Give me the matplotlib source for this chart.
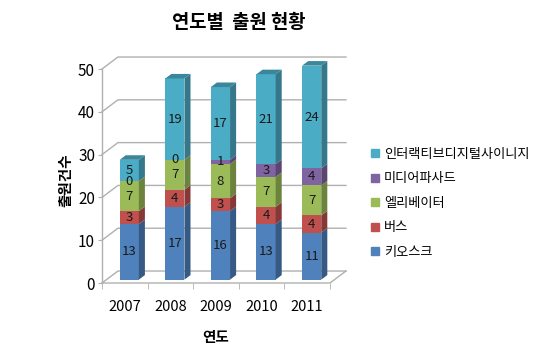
import matplotlib.pyplot as plt
import numpy as np
from matplotlib.patches import Polygon

plt.rcParams['font.family'] = ['Noto Sans CJK KR', 'DejaVu Sans']

years = ['2007', '2008', '2009', '2010', '2011']
series_names = ['키오스크', '버스', '엘리베이터', '미디어파사드', '인터랙티브디지털사이니지']
kiosk = [13, 17, 16, 13, 11]
bus = [3, 4, 3, 4, 4]
elevator = [7, 7, 8, 7, 7]
facade = [0, 0, 1, 3, 4]
signage = [5, 19, 17, 21, 24]
series = [kiosk, bus, elevator, facade, signage]

colors = ['#4f81bd', '#c0504d', '#9bbb59', '#8064a2', '#4bacc6']


def shade(c, k):
    r, g, b = [int(c[i:i + 2], 16) / 255 for i in (1, 3, 5)]
    return (r * k, g * k, b * k)


fig = plt.figure(figsize=(5.57, 3.53), dpi=100)
ax = fig.add_axes([102 / 557, 70 / 353, 228 / 557, 214 / 353])
x0, x1 = -0.5, 4.5
ax.set_xlim(x0, x1)
ax.set_ylim(0, 50)

# profondeur du graphique 3D (en unités de données)
dx, dy = 0.35, 2.8
grid_c = '#b0b0b0'

# murs et grille
for yv in range(0, 60, 10):
    ax.plot([x0, x0 + dx, x1 + dx], [yv, yv + dy, yv + dy], color=grid_c, lw=1, clip_on=False, zorder=1)
ax.plot([x0, x1, x1 + dx], [0, 0, dy], color=grid_c, lw=1, clip_on=False, zorder=1)
ax.plot([x0, x0], [0, 50], color=grid_c, lw=1, clip_on=False, zorder=1)

# barres 3D
f = 0.28    # position de la face avant
bd = 0.38   # profondeur de la barre
w = 0.42
xpos = np.arange(len(years))
bottoms = np.zeros(len(years))
for s, vals in enumerate(series):
    vals = np.array(vals, dtype=float)
    for i in range(len(years)):
        xl = xpos[i] - w / 2 + f * dx
        yb = bottoms[i] + f * dy
        yt = yb + vals[i]
        ax.bar(xl, vals[i], width=w, bottom=yb, align='edge', color=colors[s], zorder=3, clip_on=False)
        xr = xl + w
        side = Polygon([(xr, yb), (xr + bd * dx, yb + bd * dy), (xr + bd * dx, yt + bd * dy), (xr, yt)],
                       closed=True, facecolor=shade(colors[s], 0.7), edgecolor='none', zorder=3, clip_on=False)
        ax.add_patch(side)
        if s == len(series) - 1:
            top = Polygon([(xl, yt), (xr, yt), (xr + bd * dx, yt + bd * dy), (xl + bd * dx, yt + bd * dy)],
                          closed=True, facecolor=shade(colors[s], 0.78), edgecolor='none', zorder=3, clip_on=False)
            ax.add_patch(top)
        ax.text(xl + w / 2, yb + vals[i] / 2, '%d' % vals[i], ha='center', va='center',
                fontsize=9.5, color='#1a1a1a', zorder=4)
    bottoms += vals

for sp in ax.spines.values():
    sp.set_visible(False)
ax.set_yticks(range(0, 60, 10))
ax.tick_params(axis='y', length=3, color=grid_c, pad=2, labelsize=11)
ax.set_xticks(xpos)
ax.set_xticklabels(years)
ax.set_xticks(np.arange(-0.5, 5, 1), minor=True)
ax.tick_params(axis='x', which='major', length=0, pad=12, labelsize=10.5)
ax.tick_params(axis='x', which='minor', length=4, color=grid_c)

fig.text(239 / 557, 1 - 22 / 353, '연도별  출원 현황', ha='center', va='center', fontsize=13.5, fontweight='bold')
fig.text(65 / 557, 1 - 180 / 353, '출원건수', rotation=90, ha='center', va='center', fontsize=10.5, fontweight='bold')
fig.text(216 / 557, 1 - 337 / 353, '연도', ha='center', va='center', fontsize=10.5, fontweight='bold')

handles = [plt.Line2D([], [], marker='s', ls='', color=colors[s], markersize=6) for s in range(5)][::-1]
fig.legend(handles, series_names[::-1], loc='upper left', bbox_to_anchor=(364 / 557, 1 - 141 / 353),
           frameon=False, fontsize=9.5, handlelength=0.7, handletextpad=0.3, labelspacing=0.88, borderpad=0)

plt.savefig('out.png')
